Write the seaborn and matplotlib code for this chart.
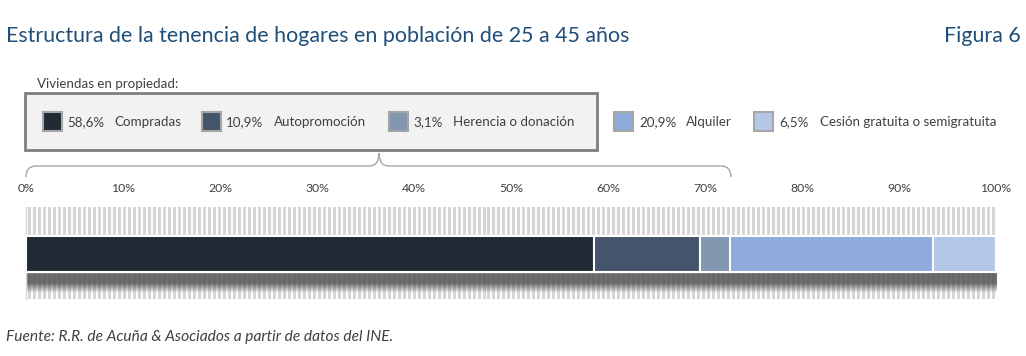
import numpy as np
import pandas as pd
import matplotlib
matplotlib.use('Agg')
import matplotlib.pyplot as plt
import seaborn as sns
from matplotlib.patches import Rectangle, PathPatch
from matplotlib.path import Path

# datos
categorias = ['Compradas', 'Autopromoción', 'Herencia o donación', 'Alquiler',
              'Cesión gratuita o semigratuita']
porcentajes = [58.6, 10.9, 3.1, 20.9, 6.5]
etiquetas = ['58,6%', '10,9%', '3,1%', '20,9%', '6,5%']
colores = ['#222a35', '#44546a', '#8497b0', '#8faadc', '#b4c7e7']
ticks = [0, 10, 20, 30, 40, 50, 60, 70, 80, 90, 100]

df = pd.DataFrame({'tipo': categorias, 'pct': porcentajes, 'color': colores})
df['acum'] = np.cumsum(df['pct'])
df['fila'] = 'hogares'

sns.set_style('white')
plt.rcParams['font.family'] = ['Lato', 'DejaVu Sans']

W, H = 1026, 356
fig = plt.figure(figsize=(W / 100, H / 100), dpi=100)


def px(x, y):
    return x / W, 1 - y / H


ax = fig.add_axes([26 / W, (H - 299) / H, 970 / W, 92 / H])

# fondo rayado
ax.vlines(np.arange(0.3, 100, 0.515), -1, 1, color='#d6d6d6', lw=2.2, zorder=1)

# sombra bajo la barra
grad = np.ones((60, 2, 4))
grad[..., :3] = 0.3
alpha = np.concatenate([np.full(30, 0.8), np.linspace(0.8, 0, 30)])
grad[..., 3] = alpha[:, None]
ax.imshow(grad, extent=(0, 100.3, 0.43, 0.21), origin='upper', aspect='auto',
          interpolation='bilinear', zorder=2)

# barras apiladas (se dibujan de la mas larga a la mas corta)
for _, r in df.iloc[::-1].iterrows():
    sns.barplot(data=pd.DataFrame([r]), x='acum', y='fila', color=r['color'],
                saturation=1, width=0.4, edgecolor='white', linewidth=1.5,
                ax=ax, zorder=3)

ax.set_xlim(0, 100)
ax.set_ylim(0.5, -0.522)
ax.set_xticks(ticks)
ax.set_xticklabels([f'{t}%' for t in ticks])
ax.xaxis.tick_top()
ax.tick_params(axis='x', length=0, pad=9, labelsize=8.8, labelcolor='#404040')
ax.set_yticks([])
ax.set_xlabel('')
ax.set_ylabel('')
for s in ['top', 'right', 'bottom']:
    ax.spines[s].set_visible(False)
ax.spines['left'].set_color('#d9d9d9')
ax.spines['left'].set_linewidth(1)

# titulo y pie
fig.text(*px(6, 36), 'Estructura de la tenencia de hogares en población de 25 a 45 años',
         fontsize=15.4, color='#1f4e79', va='center', ha='left')
fig.text(*px(1021, 36), 'Figura 6', fontsize=15.4, color='#1f4e79', va='center', ha='right')
fig.text(*px(6, 337), 'Fuente: R.R. de Acuña & Asociados a partir de datos del INE.',
         fontsize=11.2, color='#404040', style='italic', va='center', ha='left')

# leyenda
fig.text(*px(37, 84), 'Viviendas en propiedad:', fontsize=9.6, color='#404040', va='center')
x0, y0 = px(25, 150)
x1, y1 = px(597, 93)
fig.add_artist(Rectangle((x0, y0), x1 - x0, y1 - y0, transform=fig.transFigure,
                         facecolor='#f2f2f2', edgecolor='#7f7f7f', lw=2, zorder=0))
sq_x = [43, 202, 389, 614, 754]
lab_x = [67, 226, 413, 639, 779]
cat_x = [114, 274, 453, 686, 820]
for i, (cat, lab, col) in enumerate(zip(categorias, etiquetas, colores)):
    a, b = px(sq_x[i], 131)
    fig.add_artist(Rectangle((a, b), 19 / W, 19 / H, transform=fig.transFigure,
                             facecolor=col, edgecolor='#a6a6a6', lw=1.5, zorder=2))
    fig.text(*px(lab_x[i], 122), lab, fontsize=9.6, color='#404040', va='center')
    fig.text(*px(cat_x[i], 122), cat, fontsize=9.6, color='#404040', va='center')

# llave
pts = [(26, 177), (26, 166), (36, 166), (369, 166), (379, 166), (379, 153),
       (379, 166), (389, 166), (721, 166), (731, 166), (731, 177)]
codes = [Path.MOVETO, Path.CURVE3, Path.CURVE3, Path.LINETO, Path.CURVE3, Path.CURVE3,
         Path.CURVE3, Path.CURVE3, Path.LINETO, Path.CURVE3, Path.CURVE3]
brace = Path([px(*p) for p in pts], codes)
fig.add_artist(PathPatch(brace, transform=fig.transFigure, facecolor='none',
                         edgecolor='#a6a6a6', lw=1))

plt.savefig('out.png', dpi=100)
